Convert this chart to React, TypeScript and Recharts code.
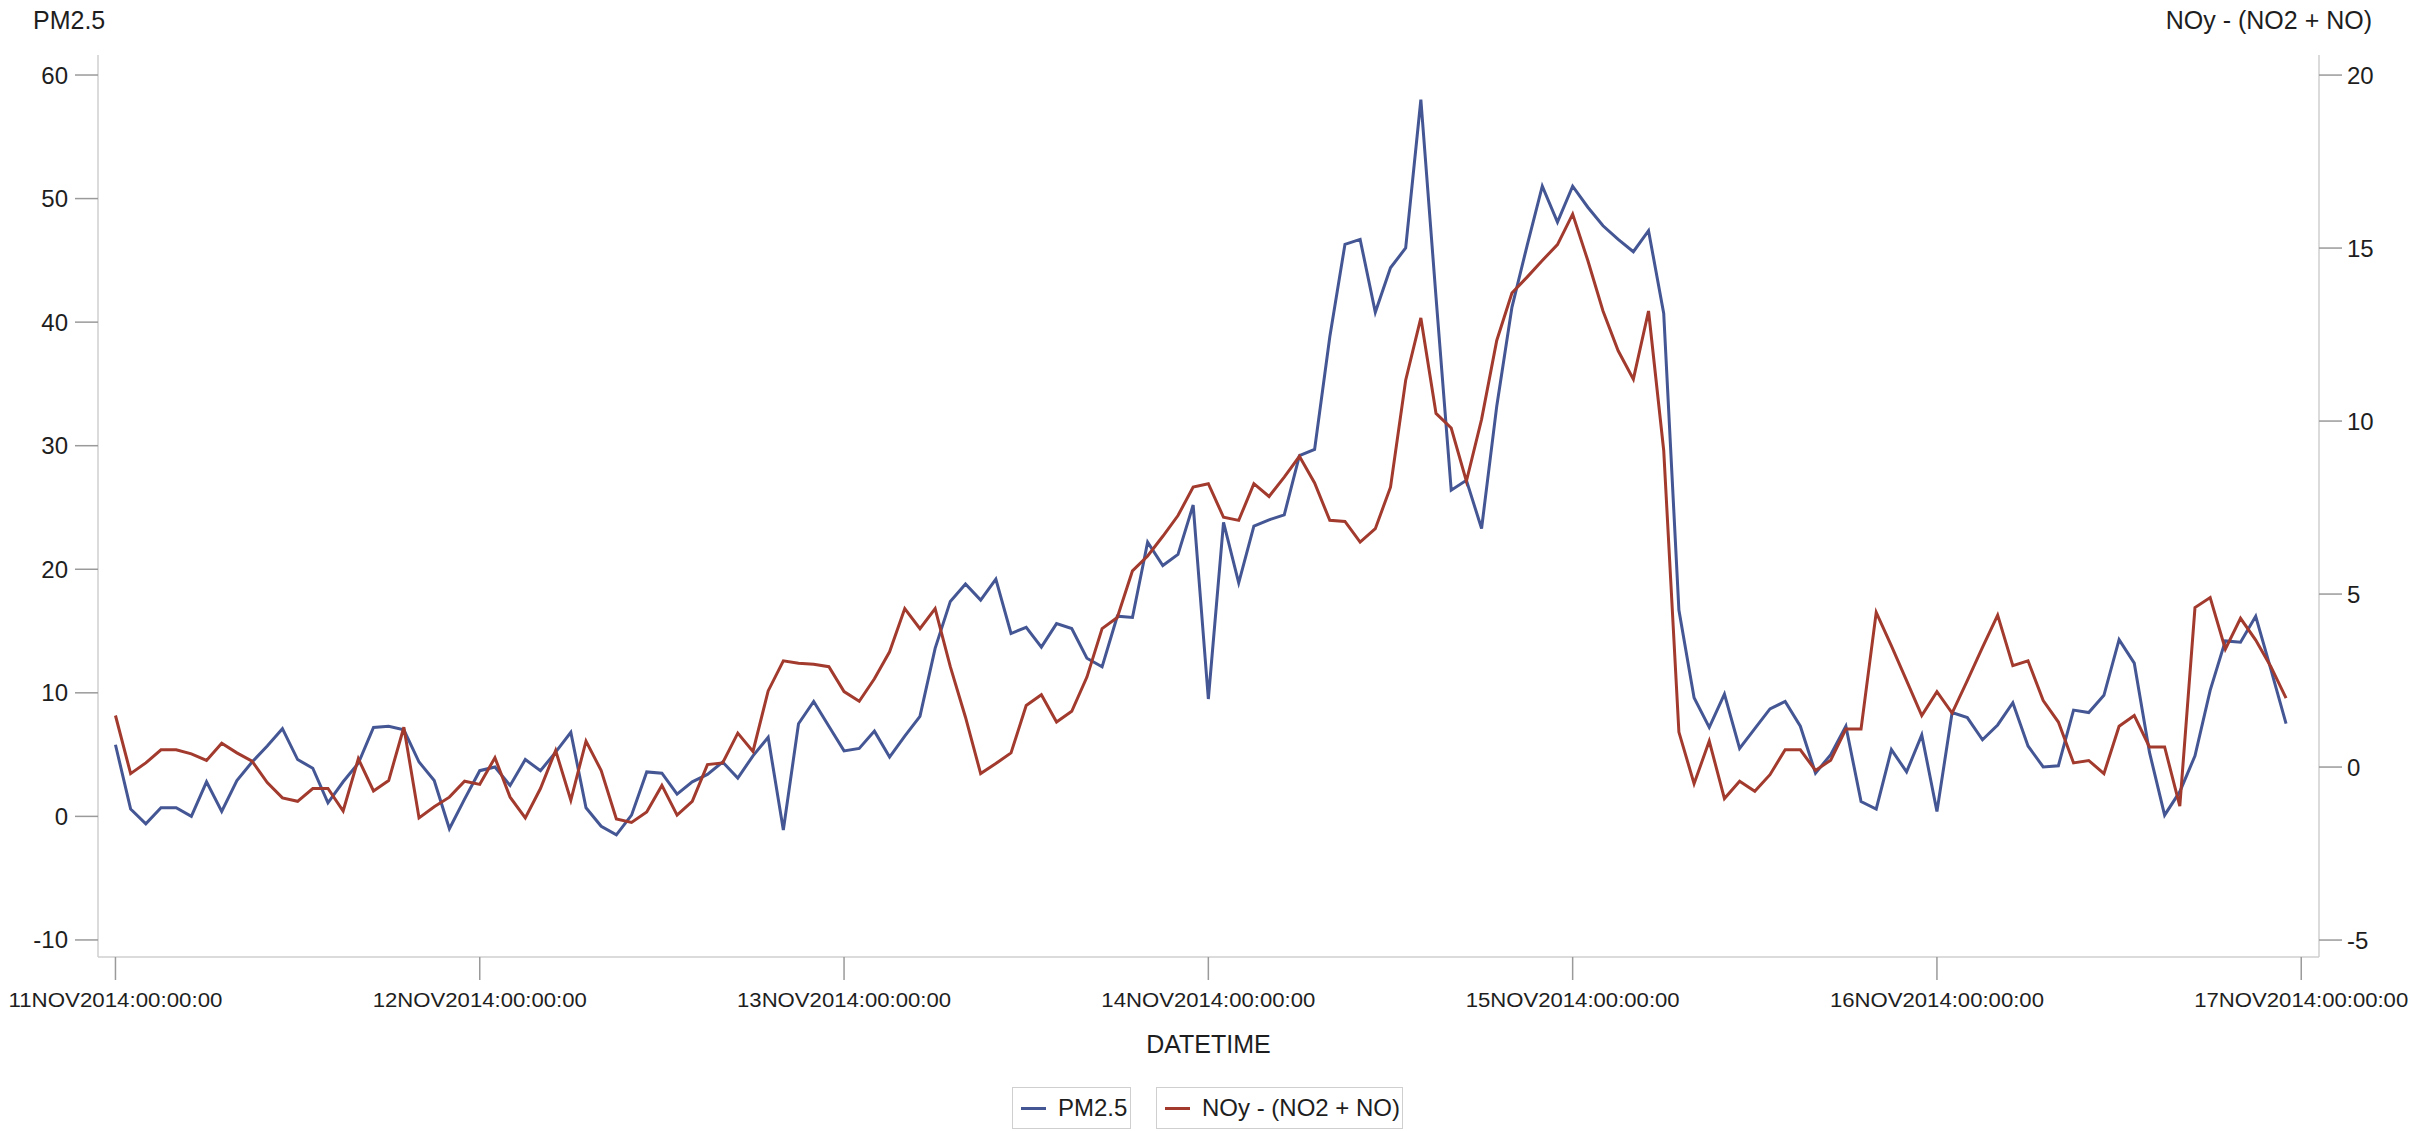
import React from 'react';
import { LineChart, Line, XAxis, YAxis, Legend } from 'recharts';

// Hourly values starting 11NOV2014:00:00:00 (one value per hour)
const PM25 = [
  5.8, 0.6, -0.6, 0.7, 0.7, 0.0, 2.8, 0.4, 2.9, 4.4, 5.7, 7.1,
  4.6, 3.9, 1.1, 2.8, 4.3, 7.2, 7.3, 7.0, 4.4, 2.9, -1.0, 1.4,
  3.7, 4.0, 2.5, 4.6, 3.7, 5.2, 6.8, 0.7, -0.8, -1.5, 0.1, 3.6,
  3.5, 1.8, 2.8, 3.4, 4.4, 3.1, 4.9, 6.4, -1.1, 7.5, 9.3, 7.3,
  5.3, 5.5, 6.9, 4.8, 6.5, 8.1, 13.6, 17.4, 18.8, 17.5, 19.2, 14.8,
  15.3, 13.7, 15.6, 15.2, 12.8, 12.1, 16.2, 16.1, 22.2, 20.3, 21.2, 25.2,
  9.5, 23.8, 18.9, 23.5, 24.0, 24.4, 29.2, 29.7, 38.8, 46.3, 46.7, 40.8,
  44.4, 46.0, 58.0, 42.0, 26.4, 27.2, 23.3, 33.2, 41.2, 46.2, 51.0, 48.1,
  51.0, 49.3, 47.8, 46.7, 45.7, 47.4, 40.7, 16.7, 9.6, 7.2, 9.9, 5.5,
  7.1, 8.7, 9.3, 7.3, 3.5, 5.0, 7.3, 1.2, 0.6, 5.4, 3.6, 6.6,
  0.4, 8.4, 8.0, 6.2, 7.4, 9.2, 5.7, 4.0, 4.1, 8.6, 8.4, 9.8,
  14.3, 12.4, 5.2, 0.1, 2.0, 4.9, 10.2, 14.2, 14.1, 16.2, 11.9, 7.5,
];

const NOY = [
  1.49, -0.19, 0.12, 0.5, 0.5, 0.38, 0.19, 0.69, 0.41, 0.17, -0.45, -0.89,
  -0.99, -0.62, -0.62, -1.27, 0.24, -0.69, -0.39, 1.15, -1.47, -1.15, -0.87, -0.41,
  -0.5, 0.27, -0.87, -1.47, -0.62, 0.48, -0.96, 0.75, -0.1, -1.5, -1.6, -1.3,
  -0.53, -1.39, -0.99, 0.07, 0.12, 0.98, 0.45, 2.2, 3.07, 3.0, 2.97, 2.9,
  2.18, 1.9, 2.55, 3.33, 4.58, 4.0, 4.58, 2.9, 1.44, -0.19, 0.1, 0.41,
  1.78, 2.09, 1.3, 1.61, 2.6, 4.0, 4.32, 5.67, 6.1, 6.67, 7.27, 8.09,
  8.19, 7.22, 7.13, 8.19, 7.82, 8.38, 8.98, 8.21, 7.13, 7.1, 6.5, 6.89,
  8.09, 11.18, 12.98, 10.22, 9.8, 8.26, 10.05, 12.33, 13.7, 14.16, 14.64, 15.1,
  15.98, 14.64, 13.18, 12.03, 11.21, 13.18, 9.15, 1.01, -0.48, 0.75, -0.91, -0.41,
  -0.7, -0.22, 0.5, 0.5, -0.1, 0.2, 1.1, 1.1, 4.47, 3.5, 2.5, 1.49,
  2.18, 1.56, 2.5, 3.46, 4.39, 2.93, 3.07, 1.92, 1.3, 0.12, 0.19, -0.19,
  1.18, 1.49, 0.58, 0.58, -1.13, 4.61, 4.9, 3.41, 4.3, 3.67, 2.9, 1.99,
];

const TICK_HOURS = [0, 24, 48, 72, 96, 120, 144];
const TICK_LABELS = [
  '11NOV2014:00:00:00',
  '12NOV2014:00:00:00',
  '13NOV2014:00:00:00',
  '14NOV2014:00:00:00',
  '15NOV2014:00:00:00',
  '16NOV2014:00:00:00',
  '17NOV2014:00:00:00',
];
const LEFT_TICKS = [-10, 0, 10, 20, 30, 40, 50, 60];
const RIGHT_TICKS = [-5, 0, 5, 10, 15, 20];
const SERIES_NAMES = ['PM2.5', 'NOy - (NO2 + NO)'];
const X_TITLE = 'DATETIME';

const BLUE = '#445694';
const RED = '#A23A2E';
const SERIES_COLORS = [BLUE, RED];
const FONT = '"Liberation Sans", Arial, Helvetica, sans-serif';
const TEXT = '#1e1e1e';
const FRAME = '#cfcfcf';
const TICKC = '#9a9a9a';

const data = PM25.map((pm, i) => ({ hour: i, pm, noy: NOY[i] }));

const X_DOMAIN: [number, number] = [-1.15, 145.17];
const L_DOMAIN: [number, number] = [-11.38, 61.62];
const R_DOMAIN: [number, number] = [-5.49, 20.58];

function XTick(props: any) {
  const { x, y, payload } = props;
  const idx = TICK_HOURS.indexOf(payload.value);
  const label = idx >= 0 ? TICK_LABELS[idx] : '';
  return (
    <text
      x={x}
      y={y + 25}
      textAnchor="middle"
      fontFamily={FONT}
      fontSize={20.5}
      fill={TEXT}
      textLength={214}
      lengthAdjust="spacingAndGlyphs"
    >
      {label}
    </text>
  );
}

const LEGEND_WIDTHS = [119, 247];

function renderLegend() {
  return (
    <div
      style={{
        display: 'flex',
        justifyContent: 'center',
        gap: 25,
        fontFamily: FONT,
      }}
    >
      {SERIES_NAMES.map((name, i) => (
        <div
          key={name}
          style={{
            width: LEGEND_WIDTHS[i],
            height: 42,
            boxSizing: 'border-box',
            border: `1.5px solid ${FRAME}`,
            display: 'flex',
            alignItems: 'center',
            paddingLeft: 8,
            whiteSpace: 'nowrap',
            overflow: 'hidden',
          }}
        >
          <span
            style={{
              display: 'inline-block',
              flex: '0 0 auto',
              width: 25,
              height: 3,
              background: SERIES_COLORS[i],
            }}
          />
          <span style={{ marginLeft: 12, fontSize: 24, color: TEXT, lineHeight: '40px' }}>
            {name}
          </span>
        </div>
      ))}
    </div>
  );
}

export default function App() {
  return (
    <div style={{ position: 'absolute', left: 0, top: 0, background: '#fff' }}>
      <LineChart
        width={2415}
        height={1131}
        data={data}
        margin={{ top: 55, right: 0, bottom: 0, left: 0 }}
      >
        <XAxis
          xAxisId="top"
          orientation="top"
          dataKey="hour"
          type="number"
          domain={X_DOMAIN}
          allowDataOverflow
          height={0}
          tick={false}
          tickLine={false}
          axisLine={{ stroke: FRAME, strokeWidth: 1.5 }}
        />
        <XAxis
          dataKey="hour"
          type="number"
          domain={X_DOMAIN}
          allowDataOverflow
          ticks={TICK_HOURS}
          interval={0}
          height={174}
          tickSize={23}
          tickLine={{ stroke: TICKC, strokeWidth: 1.5 }}
          axisLine={{ stroke: FRAME, strokeWidth: 1.5 }}
          tick={<XTick />}
          label={(p: any) => {
            const vb = p.viewBox || { x: 98, y: 957, width: 2221 };
            return (
              <text
                x={vb.x + vb.width / 2}
                y={vb.y + 96}
                textAnchor="middle"
                fontFamily={FONT}
                fontSize={25}
                fill={TEXT}
              >
                {X_TITLE}
              </text>
            );
          }}
        />
        <YAxis
          yAxisId="left"
          orientation="left"
          width={98}
          type="number"
          domain={L_DOMAIN}
          allowDataOverflow
          ticks={LEFT_TICKS}
          interval={0}
          tickSize={23}
          tickMargin={7}
          tickLine={{ stroke: TICKC, strokeWidth: 1.5 }}
          axisLine={{ stroke: FRAME, strokeWidth: 1.5 }}
          tick={{ fontSize: 24, fill: TEXT, fontFamily: FONT }}
          label={(p: any) => {
            const vb = p.viewBox || { x: 0, y: 55 };
            return (
              <text x={vb.x + 33} y={vb.y - 26} fontFamily={FONT} fontSize={25} fill={TEXT}>
                {SERIES_NAMES[0]}
              </text>
            );
          }}
        />
        <YAxis
          yAxisId="right"
          orientation="right"
          width={96}
          type="number"
          domain={R_DOMAIN}
          allowDataOverflow
          ticks={RIGHT_TICKS}
          interval={0}
          tickSize={23}
          tickMargin={5}
          tickLine={{ stroke: TICKC, strokeWidth: 1.5 }}
          axisLine={{ stroke: FRAME, strokeWidth: 1.5 }}
          tick={{ fontSize: 24, fill: TEXT, fontFamily: FONT }}
          label={(p: any) => {
            const vb = p.viewBox || { x: 2319, y: 55 };
            return (
              <text
                x={vb.x + 53}
                y={vb.y - 26}
                textAnchor="end"
                fontFamily={FONT}
                fontSize={25}
                fill={TEXT}
              >
                {SERIES_NAMES[1]}
              </text>
            );
          }}
        />
        <Legend
          layout="horizontal"
          verticalAlign="middle"
          align="center"
          content={renderLegend}
          wrapperStyle={{ position: 'absolute', top: 1087, left: 0, width: 2415, height: 42 }}
        />
        <Line
          yAxisId="left"
          type="linear"
          dataKey="pm"
          name={SERIES_NAMES[0]}
          stroke={BLUE}
          strokeWidth={3}
          dot={false}
          isAnimationActive={false}
        />
        <Line
          yAxisId="right"
          type="linear"
          dataKey="noy"
          name={SERIES_NAMES[1]}
          stroke={RED}
          strokeWidth={3}
          dot={false}
          isAnimationActive={false}
        />
      </LineChart>
    </div>
  );
}
